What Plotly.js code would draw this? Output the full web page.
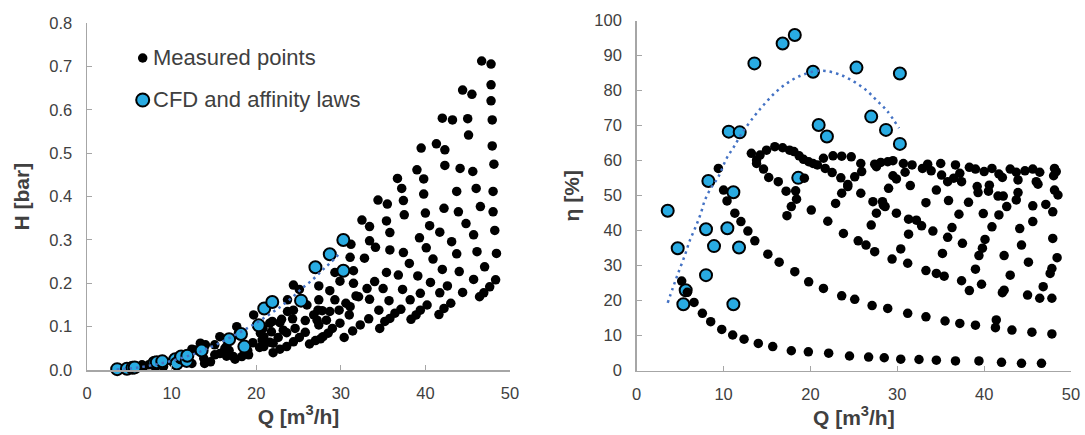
<!DOCTYPE html>
<html>
<head>
<meta charset="utf-8">
<script src="https://cdn.plot.ly/plotly-3.0.1.min.js"></script>
<style>html,body{margin:0;padding:0;background:#fff;}#chart{width:1085px;height:435px;}</style>
</head>
<body>
<div id="chart"></div>
<script>
// ---------- Left chart: head H [bar] vs flow Q [m3/h] ----------
const measQ_H = [46.65,47.76,47.76,47.76,47.9,47.9,48.1,48.0,48.0,48.2,48.4,48.3,47.6,46.9,46.4,47.0,45.7,46.1,45.7,46.5,46.0,45.6,45.5,44.4,45.0,45.1,44.1,43.7,43.9,44.8,43.1,43.7,44.0,42.6,44.4,43.0,42.2,41.6,42.0,43.2,41.3,42.3,42.3,42.2,41.7,42.0,41.7,40.9,40.5,40.0,40.1,40.6,40.2,39.5,39.0,39.8,39.8,39.3,39.1,39.4,39.4,38.9,38.3,38.2,38.1,37.5,37.4,37.2,36.7,37.4,36.8,37.3,37.1,36.4,35.8,35.2,34.6,35.7,35.4,35.8,35.8,35.4,35.5,34.4,35.0,34.0,34.5,33.4,32.5,33.4,34.1,32.8,33.1,33.4,33.3,32.3,31.4,30.4,31.8,31.5,31.5,31.2,31.1,29.9,29.3,29.3,30.6,31.0,29.9,29.0,28.5,27.9,27.6,27.0,26.3,28.7,27.4,27.4,27.8,28.3,27.4,26.8,26.0,25.8,25.8,25.1,24.4,23.6,22.8,22.0,24.4,25.1,23.7,24.3,24.6,23.6,23.7,22.8,21.9,21.8,22.6,21.6,20.4,19.6,20.9,20.8,19.7,18.7,18.3,17.5,17.7,18.1,14.0,15.7,17.9,13.8,14.6,15.7,16.5,17.3,19.1,20.5,21.6,22.0,20.9,12.4,9.05,6.7,12.8,13.4,27.3,28.7,27.2,24.4,23.0,23.2,20.7,32.1,29.8,31.1,6.5,8.3,10.2,12.4,15.1,15.1,16.3,16.5,13.9,11.2,7.3,10.0,16.8,19.0];
const measH = [0.713,0.706,0.658,0.621,0.577,0.517,0.475,0.412,0.365,0.322,0.269,0.208,0.192,0.178,0.169,0.238,0.209,0.273,0.312,0.377,0.419,0.458,0.636,0.646,0.58,0.542,0.465,0.412,0.365,0.338,0.296,0.268,0.227,0.194,0.179,0.154,0.142,0.128,0.581,0.577,0.522,0.508,0.472,0.373,0.318,0.232,0.178,0.256,0.333,0.362,0.282,0.202,0.15,0.512,0.462,0.441,0.406,0.305,0.217,0.177,0.138,0.127,0.117,0.162,0.246,0.358,0.391,0.419,0.442,0.271,0.219,0.186,0.14,0.131,0.119,0.112,0.096,0.16,0.225,0.277,0.317,0.344,0.383,0.392,0.188,0.204,0.138,0.331,0.346,0.298,0.283,0.258,0.188,0.163,0.118,0.104,0.09,0.075,0.171,0.2,0.229,0.29,0.26,0.205,0.225,0.162,0.154,0.127,0.108,0.096,0.085,0.077,0.072,0.068,0.06,0.183,0.194,0.162,0.137,0.115,0.104,0.127,0.15,0.114,0.087,0.075,0.065,0.054,0.048,0.04,0.196,0.186,0.135,0.118,0.096,0.086,0.162,0.109,0.112,0.088,0.075,0.064,0.052,0.063,0.077,0.096,0.127,0.038,0.031,0.025,0.1,0.081,0.058,0.077,0.085,0.027,0.019,0.038,0.054,0.031,0.035,0.085,0.108,0.062,0.054,0.015,0.008,0.008,0.046,0.062,0.138,0.135,0.115,0.138,0.117,0.092,0.069,0.169,0.138,0.146,0.012,0.01,0.023,0.048,0.058,0.035,0.05,0.032,0.015,0.028,0.012,0.02,0.045,0.045];

// CFD and affinity laws (same operating points in both charts)
const cfdQ   = [3.57,4.72,5.37,5.64,7.98,7.98,8.25,8.9,10.44,10.6,11.13,11.13,11.78,11.86,13.55,16.8,18.2,18.6,20.3,20.95,21.9,25.3,27.0,28.7,30.3,30.3];
const cfdH   = [0.002,0.003,0.005,0.006,0.015,0.017,0.018,0.020,0.025,0.015,0.029,0.031,0.021,0.033,0.045,0.071,0.083,0.054,0.103,0.142,0.157,0.160,0.237,0.267,0.300,0.229];
const cfdEta = [45.7,35.0,19.0,23.0,40.4,27.3,54.2,35.6,40.7,68.3,51.0,19.0,35.2,68.1,87.8,93.5,95.9,55.1,85.4,70.2,66.9,86.6,72.6,68.8,84.9,64.8];

// dotted trend line
const trendQ_H = [3.5,5.3,7.1,9.6,12.8,15.3,19.1,21.3,22.8,24.1,25.4,26.7,27.9,28.7,29.9];
const trendH   = [0.001,0.004,0.009,0.019,0.038,0.059,0.098,0.125,0.145,0.165,0.188,0.209,0.232,0.246,0.270];

// ---------- Right chart: efficiency eta [%] vs Q ----------
const measQ_eta = [5.18,5.83,6.6,7.56,8.52,9.79,11.05,12.36,14.0,15.66,17.8,19.76,22.1,24.5,26.7,28.5,30.4,32.5,34.5,36.7,39.4,42.0,44.3,46.6,
11.3,12.0,12.8,13.6,15.1,16.4,18.2,19.8,21.5,23.6,25.1,27.1,28.9,31.2,33.3,35.5,37.2,39.0,41.4,41.3,43.2,45.5,47.8,
13.2,13.8,14.6,15.2,16.3,17.2,18.3,18.4,17.8,17.3,20.1,22.0,23.8,25.5,26.4,27.4,29.4,31.2,33.3,34.5,35.4,37.4,38.3,39.7,42.1,42.3,45.0,46.4,47.8,46.8,43.0,42.3,45.1,44.3,44.1,45.6,45.6,42.6,41.7,40.9,40.1,39.8,39.4,39.0,37.5,36.3,37.1,35.8,35.2,34.1,33.3,34.5,35.9,38.2,39.9,41.6,42.2,43.9,43.7,47.1,47.9,47.9,48.4,47.8,47.6,40.5,40.6,39.2,39.3,46.0,46.2,48.1,48.5,48.0,48.3,48.1,45.6,46.4,44.7,43.0,43.7,43.9,41.7,42.1,40.9,40.0,39.0,38.3,37.2,37.4,36.7,36.5,35.8,35.1,35.0,33.9,33.5,32.9,31.7,30.9,30.7,31.5,31.3,32.2,32.8,31.3,30.4,29.0,29.5,29.9,29.9,27.6,27.0,27.2,28.3,28.6,29.5,28.9,28.1,27.6,27.4,25.9,25.8,25.1,25.8,24.7,23.6,22.6,21.5,21.7,22.5,23.5,23.6,24.3,24.3,22.9,19.3,
14.2,14.95,15.9,16.8,17.6,18.1,18.7,19.2,19.8,20.3,20.8,9.4,10.0,10.4,13.8,28.4];
const measEta = [25.6,22.4,19.5,16.4,14.0,11.8,10.2,9.0,7.8,6.9,5.7,5.4,5.0,4.2,3.9,3.7,3.3,3.2,3.0,2.8,2.8,2.4,2.1,2.1,
45.0,42.6,39.9,37.1,33.3,31.0,28.3,25.4,23.5,21.4,20.4,18.6,17.8,16.4,15.4,14.2,13.5,13.0,14.5,12.3,11.6,11.0,10.5,
62.1,59.2,57.6,55.2,54.0,51.3,51.4,49.0,46.9,44.3,45.9,42.7,39.2,37.1,35.9,34.0,31.9,30.7,28.6,27.8,27.0,25.7,22.9,24.7,22.3,23.0,21.6,20.7,20.7,24.0,27.3,32.9,31.0,35.9,40.6,42.6,47.1,46.9,44.5,41.1,37.5,35.0,32.9,29.0,36.4,40.9,44.7,38.1,33.5,39.9,48.0,51.6,48.6,48.1,44.9,49.9,49.9,50.9,48.8,47.5,45.4,37.8,32.3,29.2,27.8,51.3,53.0,52.6,50.9,54.0,53.3,51.6,50.2,55.7,56.9,57.8,57.6,56.7,57.1,57.6,56.7,54.5,56.2,55.2,57.8,56.9,57.6,58.1,56.4,54.0,58.8,55.0,54.0,55.9,59.2,57.1,59.0,57.8,58.8,56.7,59.2,52.9,43.3,43.0,41.4,39.0,34.8,52.1,55.7,54.8,45.0,45.0,41.6,48.3,48.3,46.9,60.0,59.7,59.5,58.3,59.0,56.9,59.2,55.4,50.7,61.1,61.3,61.4,60.7,57.8,56.6,55.1,50.7,53.2,52.6,47.8,55.0,
61.6,63.0,64.0,63.7,63.0,62.6,61.4,60.4,59.7,59.2,58.8,57.8,51.6,48.5,60.2,47.3];

// dotted trend line
const trendQ_eta = [3.57,4.14,4.72,5.56,6.13,6.79,7.4,7.86,8.51,9.4,10.36,11.2,12.1,13.5,14.6,15.8,17.1,18.6,20.2,21.0,21.9,23.5,25.0,26.4,27.6,28.8,30.2];
const trendEta   = [19.4,23.5,27.5,33.1,37.3,41.1,45.1,48.8,52.0,55.4,60.7,64.0,67.8,72.6,75.9,79.1,81.8,84.0,85.4,85.7,85.6,84.5,82.6,80.2,77.3,74.3,69.3];

const legendLabels = ["Measured points", "CFD and affinity laws"];

// ---------- styles ----------
const FONT = "'Liberation Sans', Arial, sans-serif";
const BLUE = '#29ABE2';
const TREND = '#4472C4';
const AXIS = '#A6A6A6';
const TXT = '#404040';

const blackMarker = {size: 9.5, color: '#000000'};
const blueMarker = {size: 12, color: BLUE, line: {color: '#000000', width: 2}};
const trendLine = {color: TREND, width: 2.5, dash: '2.5px,4px', shape: 'spline'};

const traces = [
  {x: measQ_H, y: measH, type: 'scatter', mode: 'markers', name: legendLabels[0], marker: blackMarker, xaxis: 'x', yaxis: 'y', cliponaxis: false, showlegend: false},
  {x: cfdQ, y: cfdH, type: 'scatter', mode: 'markers', name: legendLabels[1], marker: blueMarker, xaxis: 'x', yaxis: 'y', cliponaxis: false, showlegend: false},
  {x: trendQ_H, y: trendH, type: 'scatter', mode: 'lines', name: 'trend H', line: trendLine, xaxis: 'x', yaxis: 'y', showlegend: false},
  {x: cfdQ, y: cfdEta, type: 'scatter', mode: 'markers', name: legendLabels[1], marker: blueMarker, xaxis: 'x2', yaxis: 'y2', cliponaxis: false, showlegend: false},
  {x: measQ_eta, y: measEta, type: 'scatter', mode: 'markers', name: legendLabels[0], marker: blackMarker, xaxis: 'x2', yaxis: 'y2', cliponaxis: false, showlegend: false},
  {x: trendQ_eta, y: trendEta, type: 'scatter', mode: 'lines', name: 'trend eta', line: trendLine, xaxis: 'x2', yaxis: 'y2', showlegend: false}
];

const W = 1085, H = 435;
function axisBase() {
  return {
    showgrid: false, zeroline: false, showline: true, linecolor: AXIS, linewidth: 1.5,
    ticks: 'inside', ticklen: 5, tickwidth: 1, tickcolor: AXIS,
    tickfont: {family: FONT, size: 16.5, color: TXT}, fixedrange: true
  };
}
const titleFont = {family: FONT, size: 21, color: TXT, weight: 'bold'};

const layout = {
  width: W, height: H,
  margin: {l: 0, r: 0, t: 0, b: 0},
  paper_bgcolor: '#ffffff', plot_bgcolor: 'rgba(0,0,0,0)',
  showlegend: false,
  font: {family: FONT},
  xaxis: Object.assign(axisBase(), {domain: [87/W, 510/W], range: [0, 50], dtick: 10, anchor: 'y',
    ticklabelstandoff: 8, title: {text: 'Q [m<sup>3</sup>/h]', font: titleFont, standoff: 6}}),
  yaxis: Object.assign(axisBase(), {domain: [(H-370)/H, (H-23.3)/H], range: [0, 0.8], dtick: 0.1, tickformat: '.1f', anchor: 'x',
    ticklabelstandoff: 10, title: {text: 'H [bar]', font: titleFont, standoff: 14}}),
  xaxis2: Object.assign(axisBase(), {domain: [636.7/W, 1071/W], range: [0, 50], dtick: 10, anchor: 'y2',
    ticklabelstandoff: 8, title: {text: 'Q [m<sup>3</sup>/h]', font: titleFont, standoff: 6}}),
  yaxis2: Object.assign(axisBase(), {domain: [(H-370.7)/H, (H-20.7)/H], range: [0, 100], dtick: 10, anchor: 'x2',
    ticklabelstandoff: 10, title: {text: 'η [%]', font: titleFont, standoff: 9}}),
  shapes: [
    {type: 'circle', xref: 'paper', yref: 'paper', xsizemode: 'pixel', ysizemode: 'pixel',
     xanchor: 142.7/W, yanchor: 1-58/H, x0: -4.75, x1: 4.75, y0: -4.75, y1: 4.75,
     fillcolor: '#000000', line: {width: 0}},
    {type: 'circle', xref: 'paper', yref: 'paper', xsizemode: 'pixel', ysizemode: 'pixel',
     xanchor: 142.7/W, yanchor: 1-100/H, x0: -6.5, x1: 6.5, y0: -6.5, y1: 6.5,
     fillcolor: BLUE, line: {width: 2, color: '#000000'}}
  ],
  annotations: [
    {text: legendLabels[0], xref: 'paper', yref: 'paper', x: 151/W, y: 1-58/H, xanchor: 'left', yanchor: 'middle',
     showarrow: false, font: {family: FONT, size: 22, color: TXT}},
    {text: legendLabels[1], xref: 'paper', yref: 'paper', x: 151/W, y: 1-100/H, xanchor: 'left', yanchor: 'middle',
     showarrow: false, font: {family: FONT, size: 22, color: TXT}}
  ]
};

Plotly.newPlot('chart', traces, layout, {staticPlot: true, displayModeBar: false});
</script>
</body>
</html>
